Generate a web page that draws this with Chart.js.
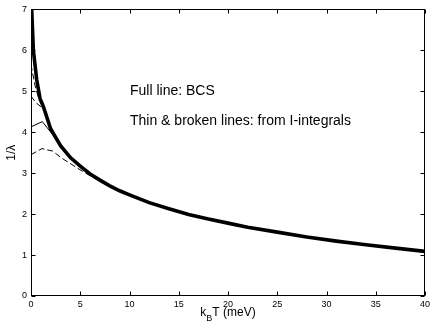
<!DOCTYPE html>
<html>
<head>
<meta charset="utf-8">
<script src="https://cdn.jsdelivr.net/npm/chart.js@4.4.1/dist/chart.umd.min.js"></script>
<style>
html,body{margin:0;padding:0;background:#fff;}
#wrap{width:436px;height:327px;position:relative;}
</style>
</head>
<body>
<div id="wrap"><canvas id="c" width="436" height="327"></canvas></div>
<script>
// ---- data ----
const xTicks = [0, 5, 10, 15, 20, 25, 30, 35, 40];
const yTicks = [0, 1, 2, 3, 4, 5, 6, 7];

// Full line: BCS
const bcsT = [0.03, 0.07, 0.24, 0.58, 0.92, 1.25, 2, 3, 4, 5, 6, 7, 8, 9, 10, 12, 14, 16, 18, 20, 22, 25, 28, 31, 34, 37, 40];
const bcsV = [7.6, 7.0, 6.0, 5.28, 4.82, 4.63, 4.08, 3.67, 3.38, 3.17, 2.98, 2.83, 2.69, 2.57, 2.47, 2.28, 2.13, 1.99, 1.88, 1.78, 1.68, 1.56, 1.44, 1.34, 1.25, 1.17, 1.09];

// Thin solid line (I-integrals)
const thinT = [0, 1.15, 2.27, 3.3, 4.5, 6, 8, 10];
const thinV = [4.13, 4.26, 3.92, 3.55, 3.25, 2.96, 2.68, 2.46];

// Broken lines (I-integrals)
const dashAT = [0, 0.4, 0.8, 1.3, 2];
const dashAV = [5.65, 5.15, 4.8, 4.6, 4.06];
const dashBT = [0, 0.5, 1.3, 2];
const dashBV = [4.88, 4.72, 4.57, 4.06];
const dashCT = [0, 1.1, 2.2, 3.1, 4.15, 5.2, 6.2, 7.2, 8.5, 10];
const dashCV = [3.45, 3.6, 3.54, 3.37, 3.21, 3.05, 2.91, 2.77, 2.62, 2.46];

const pts = (xs, ys) => xs.map((x, i) => ({x: x, y: ys[i]}));
const FONT = "'Liberation Sans', Arial, Helvetica, sans-serif";

const frame = {
  id: 'frame',
  afterDraw(chart) {
    const ctx = chart.ctx, a = chart.chartArea;
    const xs = chart.scales.x, ys = chart.scales.y;
    const L = Math.round(a.left) + 0.5, R = Math.round(a.right) - 0.5;
    const T = Math.round(a.top) + 0.5, B = Math.round(a.bottom) - 0.5;
    ctx.save();
    ctx.strokeStyle = '#000';
    ctx.lineWidth = 1;
    ctx.strokeRect(L, T, R - L, B - T);
    ctx.beginPath();
    const tl = 4;
    xTicks.forEach(v => {
      const px = Math.round(xs.getPixelForValue(v)) + 0.5;
      ctx.moveTo(px, B); ctx.lineTo(px, B - tl);
      ctx.moveTo(px, T); ctx.lineTo(px, T + tl);
    });
    yTicks.forEach(v => {
      const py = Math.round(ys.getPixelForValue(v)) + 0.5;
      ctx.moveTo(L, py); ctx.lineTo(L + tl, py);
      ctx.moveTo(R, py); ctx.lineTo(R - tl, py);
    });
    ctx.stroke();

    // annotation texts
    ctx.fillStyle = '#000';
    ctx.font = '14px ' + FONT;
    ctx.textAlign = 'left';
    ctx.textBaseline = 'middle';
    ctx.fillText('Full line: BCS', 130, 91);
    ctx.fillText('Thin & broken lines: from I-integrals', 130, 121);

    // y title
    ctx.save();
    ctx.translate(12, (a.top + a.bottom) / 2);
    ctx.rotate(-Math.PI / 2);
    ctx.textAlign = 'center';
    ctx.textBaseline = 'middle';
    ctx.font = '12px ' + FONT;
    ctx.fillText('1/\u03BB', 0, 0);
    ctx.restore();

    // x title with subscript
    const big = '12px ' + FONT, small = '9px ' + FONT;
    ctx.font = big; const wk = ctx.measureText('k').width;
    const wr = ctx.measureText('T (meV)').width;
    ctx.font = small; const wb = ctx.measureText('B').width;
    const total = wk + wb + wr;
    let x0 = (a.left + a.right) / 2 - total / 2;
    const yb = 316;
    ctx.textBaseline = 'alphabetic';
    ctx.font = big; ctx.fillText('k', x0, yb);
    ctx.font = small; ctx.fillText('B', x0 + wk, yb + 5);
    ctx.font = big; ctx.fillText('T (meV)', x0 + wk + wb, yb);
    ctx.restore();
  }
};

new Chart(document.getElementById('c'), {
  type: 'scatter',
  data: {
    datasets: [
      {data: pts(dashCT, dashCV), borderColor: '#000', borderWidth: 1, borderDash: [6, 3], showLine: true, pointRadius: 0, tension: 0},
      {data: pts(dashAT, dashAV), borderColor: '#000', borderWidth: 1, borderDash: [6, 3], showLine: true, pointRadius: 0, tension: 0},
      {data: pts(dashBT, dashBV), borderColor: '#000', borderWidth: 1, borderDash: [6, 3], showLine: true, pointRadius: 0, tension: 0},
      {data: pts(thinT, thinV), borderColor: '#000', borderWidth: 1, showLine: true, pointRadius: 0, tension: 0},
      {data: pts(bcsT, bcsV), borderColor: '#000', borderWidth: 3.6, showLine: true, pointRadius: 0, tension: 0, clip: 0}
    ]
  },
  options: {
    responsive: false,
    animation: false,
    events: [],
    layout: {padding: {top: 9, right: 11, left: 0, bottom: 0}},
    plugins: {legend: {display: false}, tooltip: {enabled: false}},
    scales: {
      x: {
        type: 'linear', min: 0, max: 40,
        afterFit(s) { s.height = 31; },
        afterBuildTicks(s) { s.ticks = xTicks.map(v => ({value: v})); },
        grid: {display: false, drawTicks: false},
        border: {display: false},
        ticks: {color: '#000', font: {family: FONT, size: 9}, padding: 3, maxRotation: 0}
      },
      y: {
        type: 'linear', min: 0, max: 7,
        afterFit(s) { s.width = 31; },
        afterBuildTicks(s) { s.ticks = yTicks.map(v => ({value: v})); },
        grid: {display: false, drawTicks: false},
        border: {display: false},
        ticks: {color: '#000', font: {family: FONT, size: 9}, padding: 4}
      }
    }
  },
  plugins: [frame]
});
</script>
</body>
</html>
